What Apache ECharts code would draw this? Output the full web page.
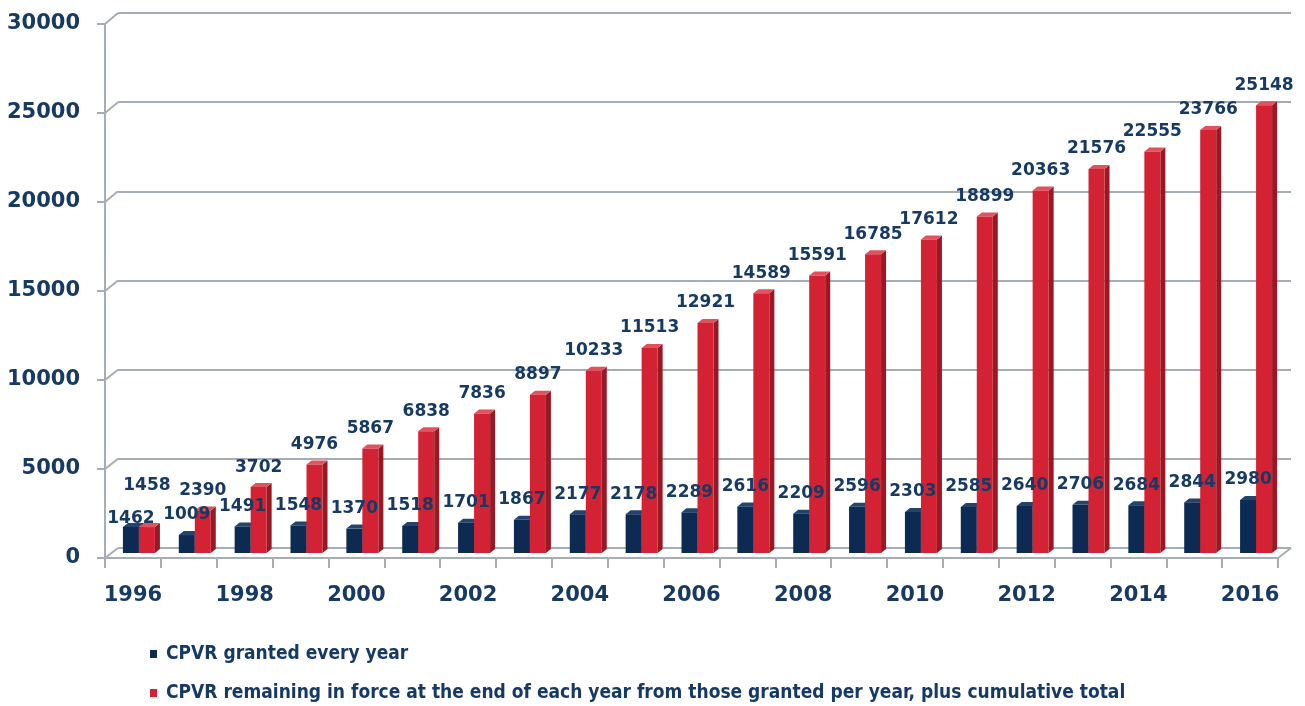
<!DOCTYPE html>
<html>
<head>
<meta charset="utf-8">
<script src="https://cdn.jsdelivr.net/npm/echarts@6/dist/echarts.min.js"></script>
<style>
  html, body { margin: 0; padding: 0; background: #fff; }
  #chart { width: 1305px; height: 706px; }
</style>
</head>
<body>
<div id="chart"></div>
<script>
// years on the x axis
const years = ['1996', '1997', '1998', '1999', '2000', '2001', '2002', '2003', '2004', '2005', '2006',
  '2007', '2008', '2009', '2010', '2011', '2012', '2013', '2014', '2015', '2016'];
// CPVR granted every year
const granted = [1462, 1009, 1491, 1548, 1370, 1518, 1701, 1867, 2177, 2178, 2289,
  2616, 2209, 2596, 2303, 2585, 2640, 2706, 2684, 2844, 2980];
// CPVR remaining in force (cumulative)
const inForce = [1458, 2390, 3702, 4976, 5867, 6838, 7836, 8897, 10233, 11513, 12921,
  14589, 15591, 16785, 17612, 18899, 20363, 21576, 22555, 23766, 25148];
const yTicks = [0, 5000, 10000, 15000, 20000, 25000, 30000];

const seriesNames = [
  'CPVR granted every year',
  'CPVR remaining in force at the end of each year from those granted per year, plus cumulative total'
];

const GRID_COLOR = '#a7adb4';
const TEXT_COLOR = '#173a64';
const FONT = '"DejaVu Sans", Verdana, sans-serif';
const LABEL_FONT = 'bold 17px "DejaVu Sans", Verdana, sans-serif';
const LEGEND_FONT = '"DejaVu Sans Condensed", "Liberation Sans Narrow", sans-serif';

// colours for front / side / top faces of the pseudo 3D bars
const faces = [
  { front: '#0c2a52', side: '#061a36', top: '#23446f' },
  { front: '#d32233', side: '#9a1824', top: '#e0525e' }
];

const BAR_W = 16;
const DEPTH_X = 5;
const DEPTH_Y = 4;

function makeRender(which) {
  return function (params, api) {
    const idx = api.value(0);
    const val = api.value(1);
    const base = api.coord([idx, 0]);
    const top = api.coord([idx, val]);
    const x0 = which === 0 ? base[0] - BAR_W : base[0];
    const x1 = x0 + BAR_W;
    const yb = base[1];
    const yt = top[1];
    const f = faces[which];

    // label offset: the first year labels are shifted in the original
    let dy = -20;
    if (params.dataIndex === 0) dy = which === 0 ? -8 : -41;

    return {
      type: 'group',
      children: [
        {
          type: 'polygon',
          shape: { points: [[x1, yt], [x1 + DEPTH_X, yt - DEPTH_Y], [x1 + DEPTH_X, yb - DEPTH_Y], [x1, yb]] },
          style: { fill: f.side },
          z2: 1
        },
        {
          type: 'polygon',
          shape: { points: [[x0, yt], [x0 + DEPTH_X, yt - DEPTH_Y], [x1 + DEPTH_X, yt - DEPTH_Y], [x1, yt]] },
          style: { fill: f.top },
          z2: 1
        },
        {
          type: 'rect',
          shape: { x: x0, y: yt, width: BAR_W, height: yb - yt },
          style: { fill: f.front },
          z2: 2
        },
        {
          type: 'text',
          x: x0 + BAR_W / 2,
          y: yt + dy,
          style: {
            text: String(val),
            font: LABEL_FONT,
            fill: TEXT_COLOR,
            align: 'center',
            verticalAlign: 'middle'
          },
          z2: 100
        }
      ]
    };
  };
}

function legendFor(name, top) {
  return {
    orient: 'vertical',
    left: 145,
    top: top,
    itemWidth: 7,
    itemHeight: 8,
    icon: 'rect',
    data: [name],
    textStyle: {
      color: TEXT_COLOR,
      fontSize: 19,
      lineHeight: 20,
      fontWeight: 'bold',
      fontFamily: LEGEND_FONT,
      padding: [0, 0, 0, 4]
    }
  };
}

const chart = echarts.init(document.getElementById('chart'), null, { renderer: 'canvas' });

const option = {
  animation: false,
  backgroundColor: '#ffffff',
  grid: [
    // front plane (axes, labels)
    { left: 105, right: 27, top: 24, bottom: 148 },
    // back wall (gridlines)
    { left: 118, right: 14, top: 13, bottom: 158 },
    // middle depth (bars)
    { left: 111, right: 21, top: 19, bottom: 153 }
  ],
  xAxis: [
    {
      gridIndex: 0,
      type: 'category',
      data: years,
      boundaryGap: true,
      axisLine: { show: true, lineStyle: { color: GRID_COLOR, width: 2 } },
      axisTick: { show: true, interval: 0, length: 10, lineStyle: { color: GRID_COLOR, width: 2 } },
      axisLabel: {
        interval: 1,
        margin: 27,
        color: TEXT_COLOR,
        fontSize: 21,
        fontWeight: 'bold',
        fontFamily: FONT
      },
      splitLine: { show: false }
    },
    { gridIndex: 1, type: 'category', data: years, show: false },
    { gridIndex: 2, type: 'category', data: years, show: false }
  ],
  yAxis: [
    {
      gridIndex: 0,
      type: 'value',
      min: 0,
      max: 30000,
      interval: 5000,
      axisLine: { show: true, lineStyle: { color: GRID_COLOR, width: 2 } },
      axisTick: { show: true, length: 8, lineStyle: { color: GRID_COLOR, width: 2 } },
      axisLabel: {
        margin: 25,
        color: TEXT_COLOR,
        fontSize: 21,
        fontWeight: 'bold',
        fontFamily: FONT,
        formatter: v => String(v)
      },
      splitLine: { show: false }
    },
    {
      gridIndex: 1,
      type: 'value',
      min: 0,
      max: 30000,
      interval: 5000,
      axisLine: { show: false },
      axisTick: { show: false },
      axisLabel: { show: false },
      splitLine: { show: true, lineStyle: { color: GRID_COLOR, width: 2 } }
    },
    {
      gridIndex: 2,
      type: 'value',
      min: 0,
      max: 30000,
      interval: 5000,
      show: false,
      splitLine: { show: false }
    }
  ],
  legend: [
    legendFor(seriesNames[0], 639),
    legendFor(seriesNames[1], 678)
  ],
  series: [
    {
      name: seriesNames[0],
      type: 'custom',
      xAxisIndex: 2,
      yAxisIndex: 2,
      clip: false,
      itemStyle: { color: faces[0].front },
      renderItem: makeRender(0),
      encode: { x: 0, y: 1 },
      data: granted.map((v, i) => [i, v])
    },
    {
      name: seriesNames[1],
      type: 'custom',
      xAxisIndex: 2,
      yAxisIndex: 2,
      clip: false,
      itemStyle: { color: faces[1].front },
      renderItem: makeRender(1),
      encode: { x: 0, y: 1 },
      data: inForce.map((v, i) => [i, v])
    }
  ]
};

chart.setOption(option);

// slanted connectors between the front axes and the back wall
const frontLeft = 105, backLeft = 118, frontRight = 1278, backRight = 1291;
const connectors = yTicks.map(v => {
  const yf = chart.convertToPixel({ yAxisIndex: 0 }, v);
  const yb = chart.convertToPixel({ yAxisIndex: 1 }, v);
  return {
    type: 'line',
    shape: { x1: frontLeft, y1: yf, x2: backLeft, y2: yb },
    style: { stroke: GRID_COLOR, lineWidth: 2 },
    z: 1
  };
});
const y0f = chart.convertToPixel({ yAxisIndex: 0 }, 0);
const y0b = chart.convertToPixel({ yAxisIndex: 1 }, 0);
connectors.push({
  type: 'line',
  shape: { x1: frontRight, y1: y0f, x2: backRight, y2: y0b },
  style: { stroke: GRID_COLOR, lineWidth: 2 },
  z: 1
});

chart.setOption({ graphic: connectors });
</script>
</body>
</html>
